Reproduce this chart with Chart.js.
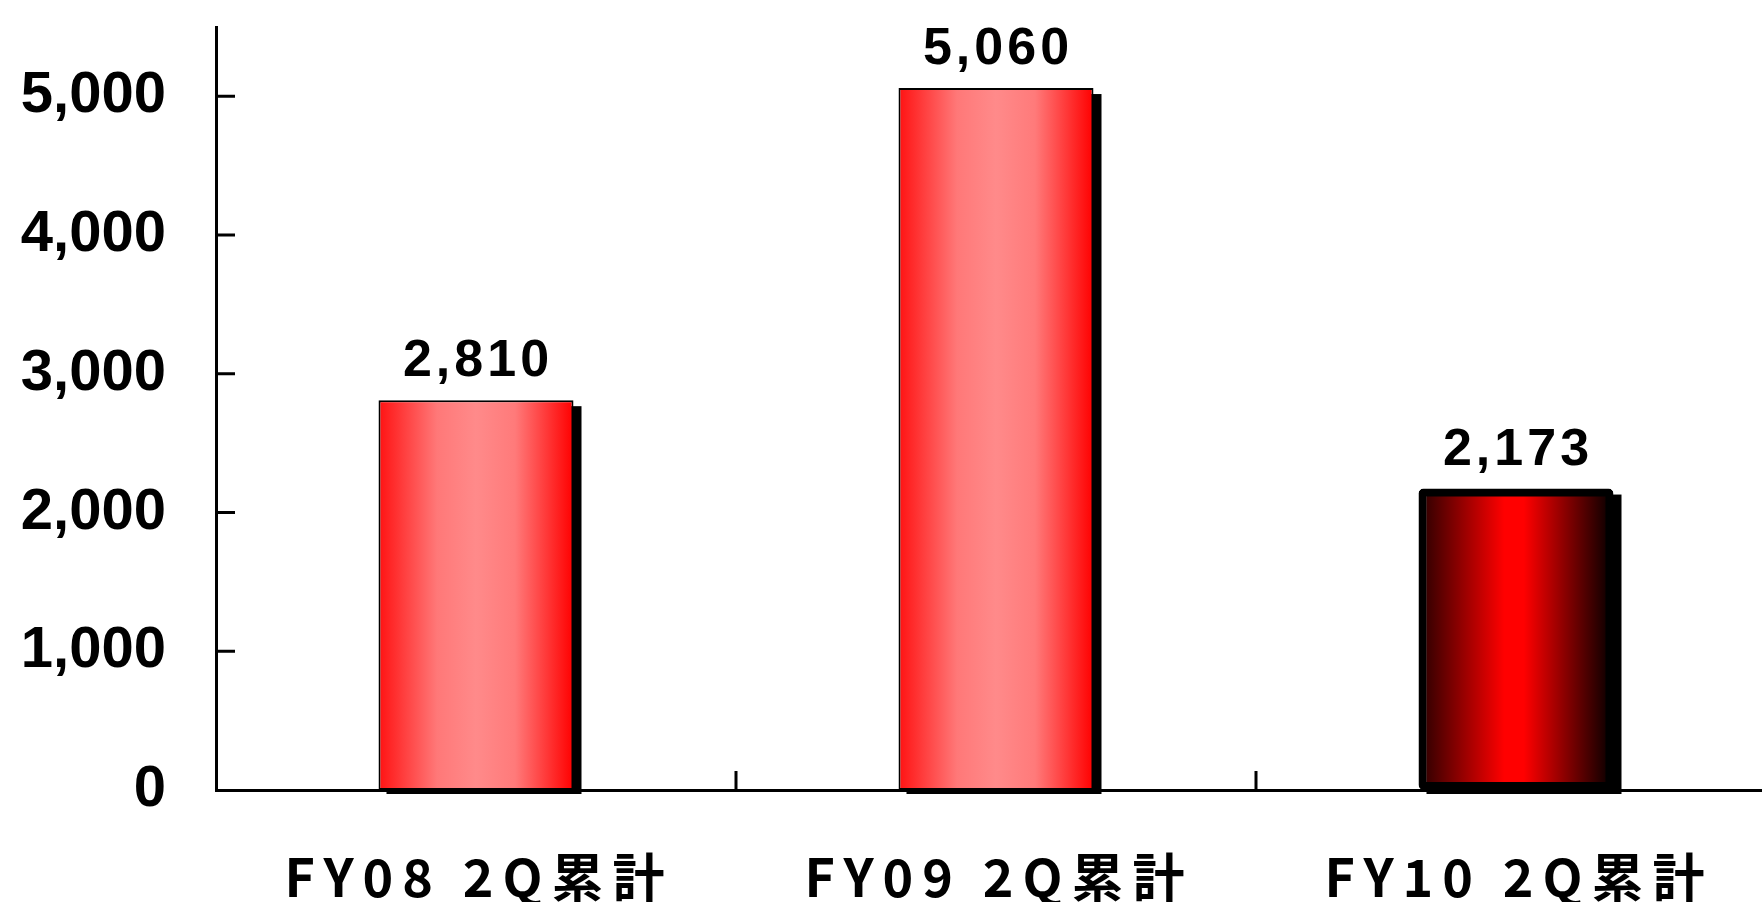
<!DOCTYPE html>
<html>
<head>
<meta charset="utf-8">
<script src="https://cdn.jsdelivr.net/npm/chart.js@4.4.1/dist/chart.umd.min.js"></script>
<style>
    html, body { margin: 0; padding: 0; background: #fff; overflow: hidden; }
    #chart { display: block; }
</style>
</head>
<body>
<canvas id="chart" width="1776" height="902"></canvas>
<script>
// Data
const categories = ['FY08 2Q累計', 'FY09 2Q累計', 'FY10 2Q累計'];
const values = [2810, 5060, 2173];
const yTicks = [0, 1000, 2000, 3000, 4000, 5000];
const yMax = 5500;

// Styles
const barPct = 0.375;
const pinkStops = [[0, '#ff1212'], [0.3, '#ff7878'], [0.5, '#ff8a8a'], [0.7, '#ff7a7a'], [1, '#ff0000']];
const darkStops = [[0, '#250000'], [0.44, '#ff0000'], [0.54, '#ff0000'], [1, '#000000']];
const barStops = [pinkStops, pinkStops, darkStops];
const borderWidths = [2, 2, 8];
const radii = [0, 0, 5];

const fmt = v => v.toLocaleString('en-US');

function barGradient(c) {
    const chart = c.chart;
    const xs = chart.scales.x;
    if (!xs || c.dataIndex == null) return '#ff0000';
    const cx = xs.getPixelForValue(c.dataIndex);
    const w = xs.width / categories.length * barPct;
    if (!isFinite(cx) || !isFinite(w) || w <= 0) return '#ff0000';
    const g = chart.ctx.createLinearGradient(cx - w / 2, 0, cx + w / 2, 0);
    barStops[c.dataIndex].forEach(s => g.addColorStop(s[0], s[1]));
    return g;
}

function noPad(s) {
    s.paddingTop = 0;
    s.paddingBottom = 0;
    s.paddingLeft = 0;
    s.paddingRight = 0;
}

// drop shadow behind each bar
const shadowPlugin = {
    id: 'shadow',
    beforeDatasetsDraw(chart) {
        const ctx = chart.ctx;
        ctx.save();
        ctx.fillStyle = '#000';
        chart.getDatasetMeta(0).data.forEach(bar => {
            ctx.fillRect(bar.x - bar.width / 2 + 8, bar.y + 6, bar.width, bar.base - bar.y - 2);
        });
        ctx.restore();
    }
};

// inner tick marks, value labels, category labels
const decoPlugin = {
    id: 'deco',
    afterDatasetsDraw(chart) {
        const ctx = chart.ctx;
        const xs = chart.scales.x, ys = chart.scales.y;
        ctx.save();
        ctx.strokeStyle = '#000';
        ctx.lineWidth = 3;
        ctx.beginPath();
        ys.ticks.forEach(t => {
            const y = ys.getPixelForValue(t.value);
            if (t.value === 0) return;
            ctx.moveTo(xs.left, y);
            ctx.lineTo(xs.left + 19, y);
        });
        for (let i = 1; i < categories.length; i++) {
            const x = (xs.getPixelForValue(i - 1) + xs.getPixelForValue(i)) / 2;
            ctx.moveTo(x, ys.bottom);
            ctx.lineTo(x, ys.bottom - 19);
        }
        ctx.stroke();

        ctx.fillStyle = '#000';
        ctx.textAlign = 'center';
        ctx.font = 'bold 52px "Liberation Sans", Arial, sans-serif';
        ctx.letterSpacing = '4px';
        ctx.textBaseline = 'alphabetic';
        chart.getDatasetMeta(0).data.forEach((bar, i) => {
            ctx.fillText(fmt(values[i]), bar.x + 2, bar.y - 24);
        });

        ctx.font = 'bold 52px "Noto Sans CJK JP", sans-serif';
        ctx.letterSpacing = '9px';
        ctx.textBaseline = 'middle';
        categories.forEach((c, i) => {
            ctx.fillText(c, xs.getPixelForValue(i) + 3, 877);
        });
        ctx.restore();
    }
};

new Chart(document.getElementById('chart'), {
    type: 'bar',
    data: {
        labels: categories,
        datasets: [{
            data: values,
            backgroundColor: barGradient,
            borderColor: '#000',
            borderWidth: borderWidths,
            borderRadius: radii,
            borderSkipped: false,
            barPercentage: barPct,
            categoryPercentage: 1
        }]
    },
    options: {
        responsive: false,
        devicePixelRatio: 1,
        animation: false,
        layout: { padding: { top: 27, left: 0, right: 0, bottom: 0 } },
        plugins: {
            legend: { display: false },
            tooltip: { enabled: false }
        },
        scales: {
            x: {
                type: 'category',
                offset: true,
                grid: { display: false, drawTicks: false },
                border: { display: true, color: '#000', width: 3 },
                ticks: { display: false },
                afterFit: s => { s.height = 112; noPad(s); }
            },
            y: {
                min: 0,
                max: yMax,
                grid: { display: false, drawTicks: false },
                border: { display: true, color: '#000', width: 3 },
                afterBuildTicks: s => { s.ticks = yTicks.map(v => ({ value: v })); },
                ticks: {
                    color: '#000',
                    padding: 50,
                    font: { family: '"Liberation Sans", Arial, sans-serif', size: 58, weight: 'bold' },
                    callback: v => fmt(v)
                },
                afterFit: s => { s.width = 216; noPad(s); }
            }
        }
    },
    plugins: [shadowPlugin, decoPlugin]
});
</script>
</body>
</html>
